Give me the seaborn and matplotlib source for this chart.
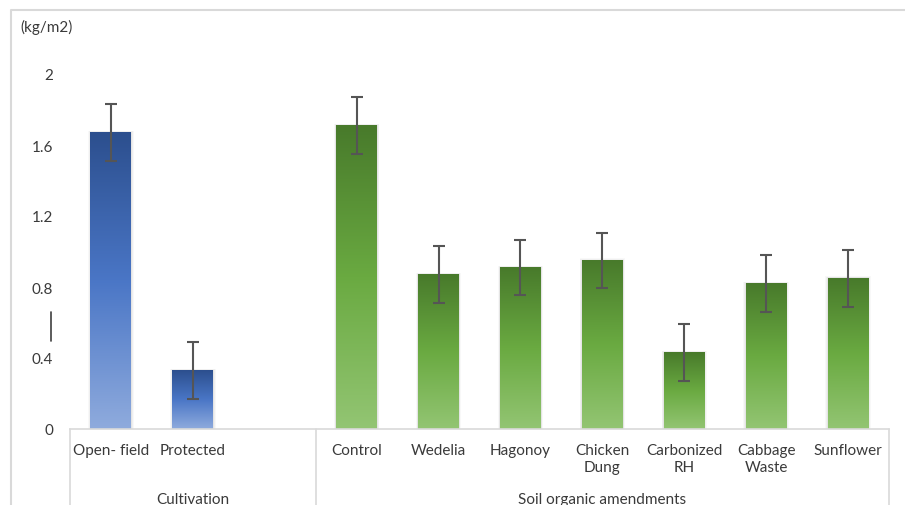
import numpy as np
import pandas as pd
import matplotlib
matplotlib.use("Agg")
import matplotlib.pyplot as plt
from matplotlib.lines import Line2D
from matplotlib.colors import LinearSegmentedColormap
import seaborn as sns

# Yield per treatment (kg/m2) with standard error
treatments = ["Open- field", "Protected", "Control", "Wedelia", "Hagonoy",
              "Chicken\nDung", "Carbonized\nRH", "Cabbage\nWaste", "Sunflower"]
groups = ["Cultivation", "Cultivation", "Soil organic amendments",
          "Soil organic amendments", "Soil organic amendments",
          "Soil organic amendments", "Soil organic amendments",
          "Soil organic amendments", "Soil organic amendments"]
yields = [1.67, 0.33, 1.71, 0.87, 0.91, 0.95, 0.43, 0.82, 0.85]
errors = [0.16, 0.16, 0.16, 0.16, 0.155, 0.155, 0.16, 0.16, 0.16]
yticks = [0, 0.4, 0.8, 1.2, 1.6, 2]
ytick_labels = ["0", "0.4", "0.8", "1.2", "1.6", "2"]

# category order with an empty slot closing the Cultivation block
order = ["Open- field", "Protected", " ", "Control", "Wedelia", "Hagonoy",
         "Chicken\nDung", "Carbonized\nRH", "Cabbage\nWaste", "Sunflower"]

df = pd.DataFrame({"treatment": treatments, "group": groups,
                   "yield": yields, "se": errors})

sns.set_theme(style="white")
plt.rcParams["font.family"] = ["Lato", "DejaVu Sans"]
text_color = "#3a3a3a"
line_gray = "#d9d9d9"
fs = 11

fig = plt.figure(figsize=(9.05, 5.06), dpi=100)
ax = fig.add_axes([70 / 905, 1 - 430 / 506, (889 - 70) / 905, (430 - 75) / 506])

sns.barplot(data=df, x="treatment", y="yield", hue="group", order=order,
            dodge=False, width=0.5, legend=False, ax=ax,
            palette={"Cultivation": "#4472c4",
                     "Soil organic amendments": "#70ad47"})

gradients = {
    "Cultivation": LinearSegmentedColormap.from_list(
        "blue", ["#8fabdd", "#4a76c6", "#2c4f8e"]),
    "Soil organic amendments": LinearSegmentedColormap.from_list(
        "green", ["#93c573", "#6aaa41", "#487a2b"]),
}

# paint each bar with a vertical gradient
grad = np.linspace(0, 1, 256).reshape(-1, 1)
for container, grp in zip(ax.containers, ["Cultivation", "Soil organic amendments"]):
    for bar in container:
        h = bar.get_height()
        if not np.isfinite(h) or h <= 0:
            continue
        x0, w = bar.get_x(), bar.get_width()
        # soft shadow
        for k, a in zip([0.09, 0.06, 0.03], [0.05, 0.07, 0.09]):
            ax.add_patch(plt.Rectangle((x0 - k * 0.3, 0), w + k * 0.6, h + k * 0.12,
                                       facecolor="#7f7f7f", alpha=a,
                                       edgecolor="none", zorder=1.5))
        ax.imshow(grad, cmap=gradients[grp], origin="lower", aspect="auto",
                  extent=[x0, x0 + w, 0, h], zorder=2, interpolation="bicubic")
        bar.set_facecolor("none")
        bar.set_edgecolor("none")

pos = [order.index(t) for t in treatments]
ax.errorbar(pos, yields, yerr=errors, fmt="none", ecolor="#555555",
            elinewidth=1.5, capsize=4.3, capthick=1.5, zorder=3)

ax.set_xlim(-0.5, len(order) - 0.5)
ax.set_ylim(0, 2.0)
ax.set_yticks(yticks)
ax.set_yticklabels(ytick_labels)
ax.set_xlabel("")
ax.set_ylabel("")
ax.tick_params(axis="y", length=0, pad=12, labelsize=fs, labelcolor=text_color)
ax.tick_params(axis="x", length=0, pad=10, labelsize=fs, labelcolor=text_color)
for lbl in ax.get_xticklabels():
    lbl.set_verticalalignment("top")
    lbl.set_linespacing(1.3)

for side in ["left", "right", "top"]:
    ax.spines[side].set_visible(False)
ax.spines["bottom"].set_color(line_gray)
ax.spines["bottom"].set_linewidth(1.2)

# multi-level category box
xt = ax.get_xaxis_transform()
for xb in [-0.5, 2.5, len(order) - 0.5]:
    ax.add_line(Line2D([xb, xb], [0, -0.3], transform=xt, color=line_gray,
                       lw=1.2, clip_on=False))
ax.text(1.0, -0.197, "Cultivation", transform=xt, ha="center", va="center",
        fontsize=fs, color=text_color)
ax.text(6.0, -0.197, "Soil organic amendments", transform=xt, ha="center",
        va="center", fontsize=fs, color=text_color)

# unit label and small axis mark
fig.text(20 / 905, 1 - 27 / 506, "(kg/m2)", ha="left", va="center",
         fontsize=fs, color=text_color)
fig.add_artist(Line2D([51 / 905, 51 / 905], [1 - 313 / 506, 1 - 342 / 506],
                      transform=fig.transFigure, color="#404040", lw=1.2))

# chart frame
fig.add_artist(Line2D([11 / 905, 11 / 905, 1.0], [0.0, 1 - 11 / 506, 1 - 11 / 506],
                      transform=fig.transFigure, color=line_gray, lw=1.5))

fig.savefig("out.png", dpi=100)
